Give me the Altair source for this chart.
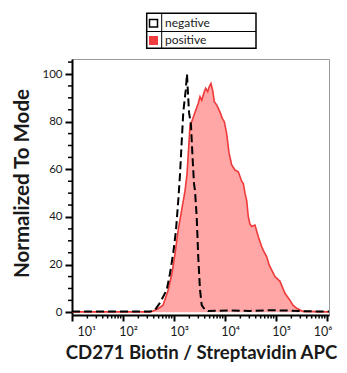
import altair as alt
import numpy as np
import pandas as pd

series = ["negative", "positive"]
x_title = "CD271 Biotin / Streptavidin APC"
y_title = "Normalized To Mode"

# x values are log10 of the fluorescence intensity
neg_x = [1.000, 2.529, 2.627, 2.725, 2.857, 2.922, 2.986, 3.039, 3.084, 3.118,
         3.151, 3.182, 3.229, 3.255, 3.269, 3.294, 3.333, 3.359, 3.392, 3.412,
         3.445, 3.476, 3.510, 3.543, 3.608, 3.667, 4.098, 4.490, 4.882, 5.275,
         5.667, 6.039]
neg_y = [0.3, 0.3, 1, 4, 9.4, 16.4, 25, 34.5, 47, 58,
         71.6, 84, 93, 100, 94, 84, 78.6, 67, 54, 51,
         40, 23, 9.4, 3, 1, 0.5, 0.8, 0.6, 0.9, 0.7,
         0.4, 0.3]

pos_x = [1.000, 2.529, 2.588, 2.686, 2.784, 2.882, 2.961, 3.020, 3.078, 3.151,
         3.216, 3.255, 3.284, 3.314, 3.347, 3.412, 3.476, 3.510, 3.543, 3.594,
         3.622, 3.661, 3.692, 3.725, 3.759, 3.790, 3.837, 3.869, 3.902, 3.947,
         3.986, 4.033, 4.078, 4.131, 4.196, 4.261, 4.327, 4.359, 4.392, 4.425,
         4.457, 4.490, 4.524, 4.588, 4.653, 4.720, 4.751, 4.818, 4.863, 4.916,
         4.980, 5.078, 5.137, 5.176, 5.275, 5.333, 5.406, 5.529, 6.039]
pos_y = [0.2, 0.2, 0.5, 1.5, 3, 9, 16.5, 24.5, 34, 43,
         51, 58, 68, 78.6, 80, 84, 87.7, 90.5, 89, 92.6,
         94, 92.6, 94.7, 96, 93, 88.4, 87, 85.6, 84, 81.4,
         80, 75, 67, 61.8, 59.7, 59, 55, 54, 50, 47,
         40, 37, 36, 36.6, 31.7, 27.5, 26, 23.3, 20, 17.7,
         15, 13, 10, 8, 5, 3, 1.7, 0.4, 0.2]

x_major = [1, 2, 3, 4, 5, 6]
x_minor = [d + float(np.log10(k)) for d in range(1, 6) for k in range(2, 10)]
y_major = [0, 20, 40, 60, 80, 100]
y_minor = [5, 10, 15, 25, 30, 35, 45, 50, 55, 65, 70, 75, 85, 90, 95, 105]

neg_df = pd.DataFrame({"log_intensity": neg_x, "percent": neg_y, "series": series[0]})
pos_df = pd.DataFrame({"log_intensity": pos_x, "percent": pos_y, "series": series[1]})
xminor_df = pd.DataFrame({"log_intensity": x_minor})
yminor_df = pd.DataFrame({"percent": y_minor})
one = pd.DataFrame({"k": [0]})

W, H = 257, 256
FONT = "Lato"
TXT = "#1a1a1a"

xscale = alt.Scale(domain=[1, 6.039], nice=False, zero=False)
yscale = alt.Scale(domain=[-1.13, 106.3], nice=False, zero=False)

x_axis = alt.Axis(
    values=x_major,
    labelExpr="'10' + substring('⁰¹²³⁴⁵⁶', datum.value, datum.value + 1)",
    title=x_title, grid=False,
    tickSize=6, tickWidth=2, tickColor="black",
    domainColor="black", domainWidth=2,
    labelFont=FONT, labelFontSize=12.5, labelColor=TXT,
    labelFlush=6, labelOffset=5, labelBaseline="alphabetic", labelPadding=14,
    titleFont=FONT, titleFontSize=18.6, titleFontWeight="bold", titleColor=TXT,
    titleX=129, titleY=43, titleBaseline="alphabetic",
)
y_axis = alt.Axis(
    values=y_major, title=y_title, grid=False,
    tickSize=7, tickWidth=2, tickColor="black",
    domainColor="black", domainWidth=2,
    labelFont=FONT, labelFontSize=11.5, labelColor=TXT, labelPadding=3,
    titleFont=FONT, titleFontSize=20.5, titleFontWeight="bold", titleColor=TXT,
    titleX=-50, titleY=124, titleBaseline="middle",
)

X = alt.X("log_intensity:Q", scale=xscale, axis=x_axis)
Y = alt.Y("percent:Q", scale=yscale, axis=y_axis)

area = alt.Chart(pos_df).mark_area(color="#ffa6a6", opacity=1).encode(x=X, y=Y)
pos_line = alt.Chart(pos_df).mark_line(color="#ee3a3a", strokeWidth=1.6).encode(
    x="log_intensity:Q", y="percent:Q")
neg_line = alt.Chart(neg_df).mark_line(color="black", strokeWidth=2, strokeDash=[8, 4]).encode(
    x="log_intensity:Q", y="percent:Q")

xminor = alt.Chart(xminor_df).mark_rule(color="black", strokeWidth=1.5).encode(
    x="log_intensity:Q", y=alt.value(H), y2=alt.value(H + 3.5))
yminor = alt.Chart(yminor_df).mark_rule(color="black", strokeWidth=1.5).encode(
    y="percent:Q", x=alt.value(-4), x2=alt.value(0))

# legend table above the plot
leg_box = alt.Chart(one).mark_rect(fill="white", stroke="black", strokeWidth=1.5).encode(
    x=alt.value(74.7), x2=alt.value(184), y=alt.value(-45.7), y2=alt.value(-10.7))
leg_vsep = alt.Chart(one).mark_rule(color="black", strokeWidth=1).encode(
    x=alt.value(89.7), y=alt.value(-45.7), y2=alt.value(-10.7))
leg_hsep = alt.Chart(one).mark_rule(color="black", strokeWidth=1).encode(
    y=alt.value(-27.5), x=alt.value(74.7), x2=alt.value(184))
leg_neg = alt.Chart(one).mark_rect(fill="white", stroke="black", strokeWidth=1.5).encode(
    x=alt.value(77.5), x2=alt.value(85.5), y=alt.value(-39.5), y2=alt.value(-32))
leg_pos = alt.Chart(one).mark_rect(fill="#f03c3c").encode(
    x=alt.value(77), x2=alt.value(86), y=alt.value(-23), y2=alt.value(-14))
leg_t1 = alt.Chart(one).mark_text(align="left", baseline="alphabetic", font=FONT,
                                  fontSize=12, color=TXT).encode(
    x=alt.value(93), y=alt.value(-32.5), text=alt.value(series[0]))
leg_t2 = alt.Chart(one).mark_text(align="left", baseline="alphabetic", font=FONT,
                                  fontSize=12, color=TXT).encode(
    x=alt.value(93), y=alt.value(-15.5), text=alt.value(series[1]))

chart = alt.layer(
    area, pos_line, neg_line, xminor, yminor,
    leg_box, leg_vsep, leg_hsep, leg_neg, leg_pos, leg_t1, leg_t2,
).properties(
    width=W, height=H,
    autosize=alt.AutoSizeParams(type="none"),
    padding={"left": 64, "top": 51, "right": 10, "bottom": 50},
    background="white",
).configure_view(stroke="#999999", strokeWidth=1)

chart.save("out.html", embed_options={"renderer": "svg", "actions": False})
